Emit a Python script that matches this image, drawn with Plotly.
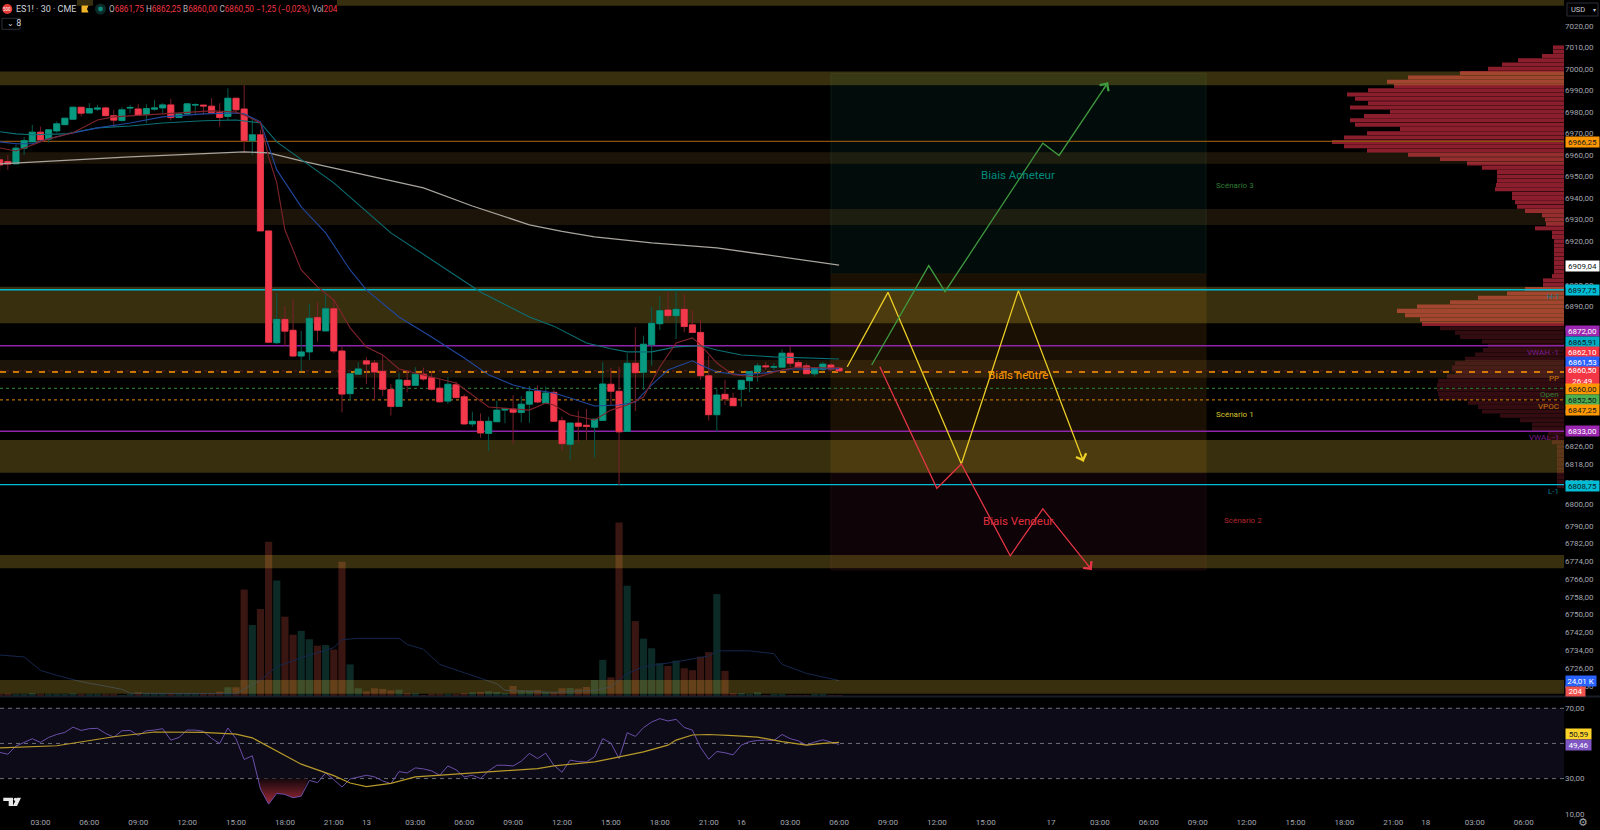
# ES1! 30 min chart with scenario drawings, volume profile, volume and RSI panes

import numpy as np
import plotly.graph_objects as go

# ---------------- Candles (one value per 30 min bar) ----------------
bar_open = [
    6957.7, 6956.9, 6955.8, 6963.1, 6966, 6970.5, 6967.3, 6971.1, 6974, 6976.5,
    6982.1, 6979.4, 6981.2, 6981.8, 6978.2, 6975.9, 6981.7, 6981.3, 6978.7, 6981.2,
    6981.8, 6983.2, 6977.3, 6979, 6983.1, 6983.1, 6982.6, 6979.6, 6977.8, 6986.3,
    6981.3, 6966.5, 6969.3, 6924.8, 6873.4, 6884.1, 6879.1, 6867.3, 6869.2, 6885,
    6878.8, 6889, 6869.6, 6850.1, 6859, 6865.1, 6864.1, 6860.3, 6852, 6844.3,
    6856.2, 6853.9, 6859, 6857.4, 6852.6, 6846.7, 6854.2, 6848.7, 6836.3, 6837.5,
    6832, 6837.3, 6842.6, 6843.1, 6841.5, 6845.3, 6851.3, 6845.8, 6850.7, 6837.8,
    6827, 6836.7, 6835.7, 6834.8, 6837.9, 6854.4, 6851.2, 6832.9, 6864, 6859.9,
    6872.5, 6882.1, 6888.4, 6885.8, 6888.7, 6881.6, 6878.1, 6858.3, 6840.5, 6849.8,
    6848, 6852.1, 6856, 6860.2, 6862.8, 6862.2, 6862.2, 6868.6, 6864.3, 6862.8,
    6859.2, 6861.2, 6863.2, 6861.75,
]
bar_high = [
    6959, 6960, 6964.6, 6968.2, 6973.9, 6973.1, 6971.9, 6975.4, 6977.1, 6982.4,
    6982.1, 6984, 6983.2, 6982.4, 6980.9, 6982.1, 6983.2, 6983.7, 6983.7, 6985.5,
    6984, 6986, 6979, 6984, 6984, 6983.1, 6986.3, 6984, 6990.9, 6986.3,
    6992.4, 6977, 6971.6, 6925, 6896.1, 6890.3, 6893.5, 6878.8, 6891.2, 6891.9,
    6896.1, 6893.5, 6871.6, 6859.2, 6864.5, 6866.8, 6865.5, 6867.8, 6854.5, 6859.7,
    6860.9, 6862.2, 6862, 6860.5, 6857.1, 6857.6, 6855.6, 6850, 6841.9, 6841.1,
    6839.6, 6846.9, 6843.7, 6849.4, 6849, 6853.6, 6853.9, 6853.3, 6851.8, 6839.6,
    6836.7, 6842.3, 6843.1, 6838.5, 6864.5, 6862, 6862.4, 6868.6, 6880.5, 6876.6,
    6889.9, 6894.8, 6896.8, 6897.3, 6895.6, 6888.4, 6883.8, 6867.5, 6852.6, 6856.4,
    6850.5, 6856.4, 6860.2, 6864, 6864.5, 6864, 6870.4, 6871.6, 6865.5, 6864,
    6861.7, 6864.7, 6864.1, 6862.25,
]
bar_low = [
    6952, 6953, 6955.8, 6960, 6966, 6966.1, 6965.7, 6970.3, 6973.9, 6976.5,
    6977.8, 6979.3, 6980.4, 6977.8, 6972.7, 6975.4, 6979.3, 6978.5, 6974.7, 6980.5,
    6979.3, 6975.9, 6977.3, 6978.7, 6978.5, 6978.5, 6979.3, 6973.1, 6976.2, 6979.3,
    6961.5, 6960, 6924.8, 6873.2, 6872.8, 6871.6, 6866.8, 6860.2, 6865.5, 6873.9,
    6878.8, 6868.6, 6841.6, 6846.9, 6858.7, 6854.5, 6847.2, 6849, 6840.1, 6844.1,
    6850.7, 6853.9, 6856, 6851.5, 6846.1, 6845.4, 6848, 6835.8, 6835, 6830,
    6823.9, 6837.3, 6836.6, 6827.2, 6837, 6836.8, 6845.7, 6845.7, 6837.5, 6823.9,
    6819.9, 6827.8, 6829, 6820.9, 6837.9, 6844.9, 6808.5, 6832.9, 6842.2, 6851.8,
    6862.9, 6879.3, 6883.4, 6875.1, 6878.2, 6878.1, 6856.4, 6837.8, 6832.7, 6844.9,
    6844.6, 6844.1, 6850.7, 6855.6, 6860.9, 6860.9, 6862.2, 6862.2, 6861.7, 6859.1,
    6857.9, 6860.4, 6860.4, 6860,
]
bar_close = [
    6955.3, 6955.7, 6963.1, 6966.6, 6970.5, 6966.9, 6971.6, 6974.4, 6977, 6982.1,
    6979.3, 6981.5, 6981.7, 6978.2, 6976.1, 6980.9, 6982, 6978.5, 6981.5, 6981.8,
    6983.2, 6977.3, 6979, 6983.7, 6983.3, 6982.7, 6979.6, 6977.3, 6986.3, 6980.9,
    6966.6, 6969.3, 6924.8, 6873.6, 6884.1, 6878.7, 6867.3, 6869.2, 6884.6, 6879.1,
    6889, 6869.6, 6849.9, 6859.2, 6861.4, 6863.6, 6860, 6852.1, 6844.3, 6856.4,
    6853.9, 6859, 6856.8, 6852.1, 6846.4, 6854.4, 6848.3, 6836.3, 6837.5, 6832.2,
    6837.5, 6842.6, 6843.2, 6841.6, 6845.3, 6851, 6846.3, 6850.4, 6837.5, 6827.3,
    6836.7, 6835.2, 6835.2, 6838.5, 6854.5, 6851.2, 6832.7, 6864, 6859.7, 6872.7,
    6882.3, 6888.1, 6885.8, 6888.7, 6880.8, 6878.1, 6858.3, 6840.5, 6849.5, 6847.7,
    6844.6, 6856.2, 6860.2, 6862.8, 6862.4, 6862.4, 6868.6, 6864, 6862.2, 6859.2,
    6861.7, 6863.6, 6861.4, 6860.5,
]

# Volume in thousands of contracts
bar_volume = [
    3.6, 4.2, 2.6, 3.1, 4.6, 2.6, 2.6, 2.6, 2.6, 4.2,
    2, 2, 2, 3.1, 3.1, 1.5, 2, 5.7, 3.6, 3.6,
    3.6, 4.2, 3.6, 3.6, 3.1, 3.6, 4.6, 6.7, 13.5, 13.5,
    165, 110, 135, 239, 179, 123, 95, 101, 88, 78,
    79, 72, 208, 49, 12, 7.3, 12, 11, 8.8, 9.8,
    4.6, 4.2, 1.5, 3.6, 3.6, 2.6, 2, 4.6, 5.7, 6.2,
    7.3, 6.2, 4.6, 15.5, 8.8, 8.8, 9.3, 6.2, 6.2, 12,
    12.4, 11.3, 14, 24.8, 56, 29, 269, 171, 116, 89,
    74, 51, 46.5, 55, 43, 40, 61, 68, 158, 39,
    4.6, 4.6, 3.1, 5.7, 1.5, 2.6, 2.6, 1.5, 1.5, 1.5,
    2, 2, 1, 0.2,
]
vol_ma_x = [0, 3, 5, 7, 10, 15, 16, 25, 29, 32, 34, 37, 41, 42, 44, 49, 50, 52,
            54, 57, 61, 62, 68, 73, 75, 77, 79, 83, 87, 88, 92, 95, 96, 99, 103]
vol_ma_y = [63.6, 60.5, 39.8, 32, 22.2, 10.4, 4.2, 3.6, 3.6, 24.8, 45.4, 59.4, 74.9, 87.3, 89.4, 89.4, 80, 72.4,
            49, 36, 19, 8.8, 5.7, 8.8, 14, 34.6, 45.4, 53, 62, 70, 70, 65.6, 49, 35, 24]

# ---------------- Moving averages ----------------
ema_red_x = [0, 2, 3, 6, 9, 12, 14, 18, 23, 26, 29, 30, 32, 33, 34, 35, 37, 39, 41, 43, 45, 47, 49, 53, 56, 60, 63, 65,
             67, 68, 70, 73, 75, 77, 79, 81, 83, 85, 86, 88, 90, 93, 96, 98, 102, 103]
ema_red_y = [6963.2, 6961.8, 6963.2, 6967.4, 6970.2, 6976.2, 6977.6, 6978.5, 6979.9, 6980.4, 6979.9, 6978.5, 6974.8,
             6959, 6947, 6925.3, 6906.8, 6899, 6893, 6880.2, 6871.4, 6867.8, 6861.4, 6857.7, 6855, 6844, 6843.1, 6842.6,
             6845.8, 6844.9, 6840.4, 6838.1, 6842.6, 6844.9, 6848.6, 6862.3, 6873.3, 6875.6, 6872.4, 6864.1, 6858.7,
             6857.7, 6860.9, 6862.3, 6861.8, 6862.1]
ema_blue_x = [0, 2, 4, 6, 8, 12, 16, 20, 25, 29, 30, 32, 34, 37, 40, 43, 45, 49, 53, 57, 60, 63, 65, 68, 70, 73, 76, 78,
              80, 82, 85, 86, 88, 91, 94, 97, 100, 103]
ema_blue_y = [6966, 6965.1, 6965.1, 6967.4, 6969.3, 6972.5, 6974.8, 6977.6, 6979, 6979.4, 6979, 6975.3, 6953, 6935.9,
              6923.9, 6906.8, 6897.6, 6885.2, 6876, 6866.4, 6858.7, 6854.1, 6852.2, 6850.4, 6848.1, 6844.5, 6844.9,
              6846.3, 6854.1, 6860.9, 6865.1, 6863.2, 6860, 6858.7, 6859.6, 6861.4, 6861.4, 6861.53]
ema_teal_x = [0, 2, 4, 8, 12, 16, 20, 25, 29, 32, 34, 41, 48, 55, 59, 65, 68, 72, 75, 77, 80, 83, 86, 88, 91, 95, 99,
              102, 103]
ema_teal_y = [6970.7, 6969.7, 6969.3, 6969.7, 6972.5, 6973.4, 6974.8, 6975.8, 6976.2, 6974.8, 6966, 6947, 6923.9,
              6906.8, 6896.7, 6885.2, 6881, 6873.3, 6870.6, 6869.2, 6869.2, 6871.5, 6872, 6870.1, 6867.8, 6866.9,
              6866.4, 6866, 6865.91]
sma_grey_x = [0, 16, 30, 33, 37, 52, 58, 65, 69, 73, 80, 88, 103]
sma_grey_y = [6955.8, 6959, 6961.4, 6960.9, 6957.2, 6944.7, 6936.3, 6927.6, 6924.6, 6922, 6919.3, 6917, 6909.04]

# ---------------- Levels and zones ----------------
level_price = [6966.25, 6897.75, 6808.75, 6872, 6833, 6860.5, 6860, 6852.5, 6847.25]
level_color = ["#8a520c", "#00bcd4", "#00bcd4", "#8e24aa", "#8e24aa", "#5e1a1e", "#ff9800", "#2a6e2e", "#b86f00"]
level_dash = ["solid", "solid", "solid", "solid", "solid", "dot", "6px,7px", "dot", "dot"]
level_width = [1.2, 1.5, 1.3, 1.4, 1.4, 1, 1.5, 1.4, 1.2]

zone_top = [7034, 6998.8, 6961.2, 6934.9, 6899.1, 6865.5, 6829, 6776.8, 6720.6]
zone_bottom = [7029.5, 6992.3, 6955.9, 6927.5, 6882.3, 6857.4, 6814.1, 6770.9, 6714.5]
zone_color = ["rgba(255,220,60,0.215)", "rgba(255,220,60,0.215)", "rgba(255,180,70,0.11)", "rgba(255,180,70,0.11)",
              "rgba(255,220,60,0.215)", "rgba(255,180,70,0.11)", "rgba(255,220,60,0.215)", "rgba(255,220,60,0.215)",
              "rgba(255,220,60,0.215)"]

# ---------------- Scenario drawings ----------------
buy_x = [107, 114, 116, 128, 130, 136]
buy_y = [6863.2, 6908.8, 6896.8, 6965.4, 6959.7, 6993.7]
neutral_x = [104, 109, 118, 125, 133]
neutral_y = [6862.4, 6896.5, 6818.1, 6897.3, 6819.1]
sell_x = [108, 115, 118, 124, 128, 134]
sell_y = [6862.4, 6807, 6818.1, 6776.5, 6797.7, 6770.1]

# ---------------- Volume profile (rows every 2 points, width in pixels) ----------------
profile_price = list(range(7010, 6806, -2))
profile_size = [
    11, 11, 22, 46, 62, 76, 104, 156, 177, 170, 196, 217, 209, 196, 214, 174, 200, 214, 209, 164,
    197, 220, 232, 220, 197, 156, 124, 97, 82, 67, 67, 67, 68, 69, 52, 52, 49, 47, 39, 22,
    19, 18, 29, 12, 12, 10, 10, 10, 10, 10, 10, 10, 10, 12, 21, 21, 39, 57, 86, 114,
    147, 167, 159, 144, 142, 124, 109, 104, 82, 76, 81, 89, 99, 109, 112, 109, 117, 126, 127, 127,
    126, 125, 96, 86, 82, 64, 44, 32, 32, 16, 16, 12, 7, 7, 7, 7, 7, 7, 7, 7, 7, 7,
]

# ---------------- RSI ----------------
rsi_values = [
    44.9, 43.9, 48.5, 50.6, 52.7, 50.6, 53.4, 55.1, 56.3, 59.3,
    57.4, 58.4, 58.6, 55.7, 53.6, 57.2, 57.4, 54.6, 57.2, 57.6,
    58.4, 51.9, 53.4, 57.6, 57.6, 56.9, 52.9, 50, 58.8, 52.7,
    40.9, 43, 24.1, 15.5, 21.6, 21, 19.1, 20, 29, 27.7,
    33.2, 29.4, 25.2, 29.8, 31, 31.9, 31, 28.7, 27.1, 34,
    33.2, 36.1, 35.5, 34.4, 31.9, 37.2, 35, 31, 31.9, 30,
    34.4, 37.6, 37.6, 37.2, 39.9, 44.3, 41.4, 44.5, 37.6, 33.6,
    40.5, 39.7, 39.5, 42.4, 52.7, 50.2, 41.4, 56.1, 54, 59,
    62.2, 64.1, 62.8, 63.7, 59.1, 57.6, 47.7, 41, 45.4, 44.7,
    43.5, 49, 51, 51.7, 51.9, 51.7, 55.1, 52.7, 51.5, 49,
    50.8, 52.1, 50.8, 49.46,
]
rsi_ma_x = [0, 7, 14, 19, 25, 29, 31, 34, 37, 41, 43, 45, 48, 51, 57, 63, 66, 68, 73, 75, 79, 82, 83, 85, 87, 90, 93, 96,
            99, 101, 103]
rsi_ma_y = [47.5, 48.7, 53.8, 56.5, 56.3, 55.3, 53.2, 45.8, 38.2, 31.7, 27.5, 25.4, 27.3, 31, 32.9, 34.8, 35.7, 37.2,
            39.5, 41.4, 45.2, 49, 51.9, 54.8, 55.1, 54.4, 53.6, 51, 49, 50, 50.59]
oversold_x = [31.8, 32, 33, 34, 35, 36, 37, 37.9]
oversold_y = [30, 24.1, 15.5, 21.6, 21, 19.1, 20, 30]
rsi_levels = [70, 50, 30]

# ---------------- Axis labels ----------------
time_ticks = [5, 11, 17, 23, 29, 35, 41, 45, 51, 57, 63, 69, 75, 81, 87, 91, 97, 103, 109, 115, 121, 129, 135, 141, 147,
              153, 159, 165, 171, 175, 181, 187]
time_labels = ["03:00", "06:00", "09:00", "12:00", "15:00", "18:00", "21:00", "13", "03:00", "06:00", "09:00", "12:00",
               "15:00", "18:00", "21:00", "16", "03:00", "06:00", "09:00", "12:00", "15:00", "17", "03:00", "06:00",
               "09:00", "12:00", "15:00", "18:00", "21:00", "18", "03:00", "06:00"]
price_ticks = [7020, 7010, 7000, 6990, 6980, 6970, 6960, 6950, 6940, 6930, 6920, 6900, 6890, 6880, 6842, 6826, 6818,
               6810, 6800, 6790, 6782, 6774, 6766, 6758, 6750, 6742, 6734, 6726, 6718]
rsi_ticks = [70, 30, 10]

tag_text = ["6966,25", "6909,04", "6897,75", "6872,00", "6865,91", "6862,10", "6861,53", "6860,50<br>26:49", "6860,00",
            "6852,50", "6847,25", "6833,00", "6808,75", "24,01 K", "204", "50,59", "49,46"]
tag_color = ["#ff9800", "#ffffff", "#00bcd4", "#9c27b0", "#00acc1", "#f23645", "#2962ff", "#f23645", "#ff9800",
             "#4caf50", "#ff9800", "#9c27b0", "#00bcd4", "#2962ff", "#ef5350", "#ffd42a", "#7e57c2"]
tag_font = ["#131722", "#131722", "#131722", "#ffffff", "#131722", "#ffffff", "#ffffff", "#ffffff", "#131722",
            "#131722", "#131722", "#ffffff", "#131722", "#ffffff", "#ffffff", "#131722", "#ffffff"]
tag_y = [142, 266, 290, 331.3, 341.7, 351.7, 361.7, 376, 389.3, 400, 409.7, 431.3, 485.7, 680.5, 691, 734, 744.7]
tag_w = [33, 33, 33, 33, 33, 33, 33, 33, 33, 33, 33, 33, 33, 30, 19, 25, 25]
tag_h = [10, 10, 10, 10, 10, 10, 10, 18, 10, 10, 10, 10, 10, 10, 9, 10, 10]

# ---------------- Pane geometry ----------------
W, H = 1600, 830
PLOT_RIGHT = 1564
MAIN_BOTTOM = 696
RSI_TOP, RSI_BOTTOM = 698, 815.5
x_range = [0.04, 191.95]
log_top = np.log10(7020 * np.exp(26 / 15007))
log_bottom = np.log10(7020 * np.exp(-(MAIN_BOTTOM - 26) / 15007))
log_range = [log_bottom, log_top]


def px_x(x):
    return x / W


def px_y(y):
    return 1 - y / H


FONT = "Roboto, sans-serif"
fig = go.Figure()

# ---------------- Volume profile ----------------
profile_colors = ["#8a1e2d" if p > 6880 else "#330c12" for p in profile_price]
fig.add_trace(go.Bar(x=profile_size, y=profile_price, orientation="h", width=1.85, xaxis="x", yaxis="y",
                     marker=dict(color=profile_colors, line=dict(width=0)), showlegend=False, hoverinfo="skip"))

# ---------------- Volume ----------------
bar_index = list(range(len(bar_open)))
vol_colors = ["#0c2a26" if c >= o else "#3a1612" for o, c in zip(bar_open, bar_close)]
fig.add_trace(go.Bar(x=bar_index, y=bar_volume, width=0.88, xaxis="x2", yaxis="y2",
                     marker=dict(color=vol_colors, line=dict(width=0)), showlegend=False))
fig.add_trace(go.Scatter(x=vol_ma_x, y=vol_ma_y, mode="lines", xaxis="x2", yaxis="y2",
                         line=dict(color="#16264d", width=1), showlegend=False))

# ---------------- Zones and horizontal levels ----------------
for top, bottom, color in zip(zone_top, zone_bottom, zone_color):
    fig.add_trace(go.Scatter(x=[x_range[0], x_range[1], x_range[1], x_range[0], x_range[0]],
                             y=[top, top, bottom, bottom, top], mode="none", fill="toself", fillcolor=color,
                             xaxis="x2", yaxis="y3", showlegend=False, hoverinfo="skip"))
for price, color, dash, width in zip(level_price, level_color, level_dash, level_width):
    fig.add_trace(go.Scatter(x=x_range, y=[price, price], mode="lines", xaxis="x2", yaxis="y3",
                             line=dict(color=color, dash=dash, width=width), showlegend=False, hoverinfo="skip"))

# ---------------- Candles: dim wicks first, then bright bodies ----------------
fig.add_trace(go.Candlestick(x=bar_index, open=bar_open, high=bar_high, low=bar_low, close=bar_close,
                             xaxis="x2", yaxis="y5", whiskerwidth=0, showlegend=False,
                             increasing=dict(line=dict(color="#075a4c", width=1), fillcolor="rgba(0,0,0,0)"),
                             decreasing=dict(line=dict(color="#7a1f2a", width=1), fillcolor="rgba(0,0,0,0)")))
body_top = np.maximum(bar_open, bar_close)
body_bottom = np.minimum(bar_open, bar_close)
fig.add_trace(go.Candlestick(x=bar_index, open=bar_open, high=body_top, low=body_bottom, close=bar_close,
                             xaxis="x2", yaxis="y5", whiskerwidth=0, showlegend=False,
                             increasing=dict(line=dict(color="#089981", width=0.6), fillcolor="#089981"),
                             decreasing=dict(line=dict(color="#f5394d", width=0.6), fillcolor="#f5394d")))

# ---------------- Moving averages ----------------
for xs, ys, color, width in [(sma_grey_x, sma_grey_y, "#a8a49e", 1.3), (ema_teal_x, ema_teal_y, "#0b6f74", 1.1),
                             (ema_blue_x, ema_blue_y, "#20479e", 1.1), (ema_red_x, ema_red_y, "#80242c", 1.1)]:
    fig.add_trace(go.Scatter(x=xs, y=ys, mode="lines", xaxis="x2", yaxis="y5",
                             line=dict(color=color, width=width), showlegend=False))

# ---------------- Scenario paths ----------------
for xs, ys, color in [(neutral_x, neutral_y, "#ecce26"), (buy_x, buy_y, "#3f9a3f"), (sell_x, sell_y, "#e23545")]:
    fig.add_trace(go.Scatter(x=xs, y=ys, mode="lines", xaxis="x2", yaxis="y5",
                             line=dict(color=color, width=1.3), showlegend=False))

# ---------------- RSI ----------------
for level in rsi_levels:
    fig.add_trace(go.Scatter(x=x_range, y=[level, level], mode="lines", xaxis="x3", yaxis="y4",
                             line=dict(color="#6c6f78", width=1, dash="4px,4px"), showlegend=False, hoverinfo="skip"))
fig.add_trace(go.Scatter(x=oversold_x, y=oversold_y, mode="none", fill="toself", xaxis="x3", yaxis="y4",
                         fillgradient=dict(type="vertical", colorscale=[[0, "#a02a38"], [1, "#14070b"]]),
                         showlegend=False, hoverinfo="skip"))
fig.add_trace(go.Scatter(x=bar_index, y=rsi_values, mode="lines", xaxis="x3", yaxis="y4",
                         line=dict(color="#6a4fa8", width=1), showlegend=False))
fig.add_trace(go.Scatter(x=rsi_ma_x, y=rsi_ma_y, mode="lines", xaxis="x3", yaxis="y4",
                         line=dict(color="#b79a2a", width=1.2), showlegend=False))

# ---------------- Shapes ----------------
shapes = []


def rect(x0, y0, x1, y1, fill, line="rgba(0,0,0,0)", layer="below"):
    shapes.append(dict(type="rect", xref="paper", yref="paper", x0=px_x(x0), x1=px_x(x1), y0=px_y(y0), y1=px_y(y1),
                       fillcolor=fill, line=dict(color=line, width=1), layer=layer))


def circle(cx, cy, r, fill):
    shapes.append(dict(type="circle", xref="paper", yref="paper", x0=px_x(cx - r), x1=px_x(cx + r),
                       y0=px_y(cy + r), y1=px_y(cy - r), fillcolor=fill, line=dict(width=0), layer="above"))


def polygon(points, fill):
    path = "M " + " L ".join(f"{px_x(x)},{px_y(y)}" for x, y in points) + " Z"
    shapes.append(dict(type="path", xref="paper", yref="paper", path=path, fillcolor=fill,
                       line=dict(width=0), layer="above"))


rect(831, 73.3, 1206, 274, "#020c0a", "#0b1a12")
rect(831, 274, 1206, 473, "#1a1003", "#1d1506")
rect(831, 473, 1206, 570, "#0e0306", "#160a0c")
rect(0, RSI_TOP + 10.3, PLOT_RIGHT, RSI_TOP + 80.6, "#0e0b18")
rect(0, MAIN_BOTTOM - 0.5, W, MAIN_BOTTOM + 1.5, "#1a1d26", layer="above")

# black cut-outs of the top strip behind the legend
rect(0, 0, 77, 6, "#000000", layer="above")
rect(93, 0, 337, 6, "#000000", layer="above")

# header icons, buttons and logo
circle(7.3, 9, 5, "#e53935")
circle(100.5, 9, 5.5, "#0c2a28")
circle(100.5, 9, 2.4, "#0e8a7a")
polygon([(81.5, 5.5), (88.5, 5.5), (87, 9), (88.5, 12.5), (81.5, 12.5)], "#f0b429")
rect(2, 18.3, 20, 29.3, "#000000", "#2a2e39", layer="above")
rect(1567, 3, 1598, 16, "#000000", "#2a2e39", layer="above")
polygon([(3.3, 797.7), (13, 797.7), (13, 806), (8.7, 806), (8.7, 801), (3.3, 801)], "#e8e8e8")
polygon([(21, 797.7), (17, 806), (12.8, 806), (16.8, 797.7)], "#e8e8e8")
circle(15.4, 799.3, 1.6, "#e8e8e8")

# ---------------- Annotations ----------------
annotations = []


def label(x, y, text, color, size=8, anchor="left", family=FONT):
    annotations.append(dict(xref="paper", yref="paper", x=px_x(x), y=px_y(y), text=text, showarrow=False,
                            xanchor=anchor, yanchor="middle", font=dict(family=family, size=size, color=color),
                            borderpad=0))


# price tags on the right axis
for text, color, font_color, y, w, h in zip(tag_text, tag_color, tag_font, tag_y, tag_w, tag_h):
    annotations.append(dict(xref="paper", yref="paper", x=px_x(1565), y=px_y(y), text=text, showarrow=False,
                            xanchor="left", yanchor="middle", width=w, height=h, align="center", valign="middle",
                            bgcolor=color, borderpad=0, font=dict(family=FONT, size=8, color=font_color)))

# level names
label(1560, 296, "H-1", "#0a7c8c", anchor="right")
label(1560, 352, "VWAH -1", "#7b1f8f", anchor="right")
label(1560, 378, "PP", "#c9780a", anchor="right")
label(1560, 394.7, "Open", "#2e7d32", anchor="right")
label(1560, 406, "VPOC", "#c9780a", anchor="right")
label(1560, 437, "VWAL -1", "#7b1f8f", anchor="right")
label(1560, 491, "L-1", "#0a7c8c", anchor="right")

# scenario texts
label(1018, 175, "Biais Acheteur", "#00897b", 11.5, "center")
label(1018, 374.5, "Biais neutre", "#ff9800", 11.5, "center")
label(1018, 521, "Biais Vendeur", "#e03040", 11.5, "center")
label(1215, 185, "Scénario 3", "#2e7d32", 8)
label(1215, 414, "Scénario 1", "#d8c02a", 8)
label(1222.7, 520, "Scénario 2", "#b3262f", 8)

# header
label(15, 9, "ES1! · 30 · CME", "#d1d4dc", 9)
label(7.3, 9, "500", "#ffffff", 4.5, "center")
label(6, 23.8, "⌄ 8", "#d1d4dc", 8, family="DejaVu Sans")
label(1570, 9.5, "USD", "#c8cad0", 7.5)
label(1592, 9.5, "▾", "#c8cad0", 6, family="DejaVu Sans")
label(1583, 822, "⚙", "#a3a6af", 11, "center", family="DejaVu Sans")
grey, red = "#b2b5be", "#f23645"
legend_parts = [(grey, "O"), (red, "6861,75 "), (grey, "H"), (red, "6862,25 "), (grey, "B"), (red, "6860,00 "),
                (grey, "C"), (red, "6860,50 −1,25 (−0,02%) "), (grey, "Vol"), (red, "204")]
label(108, 9, "".join(f'<span style="color:{c}">{t}</span>' for c, t in legend_parts), red, 8.2)

# open arrow heads at the end of the scenario paths
for x, y, ax, ay, color in [(buy_x[-1], buy_y[-1], -5.6, 8.3, "#3f9a3f"),
                            (neutral_x[-1], neutral_y[-1], -3.5, -9.3, "#ecce26"),
                            (sell_x[-1], sell_y[-1], -6.3, -7.7, "#e23545")]:
    annotations.append(dict(xref="x2", yref="y5", x=x, y=np.log10(y), ax=ax, ay=ay, text="", showarrow=True,
                            arrowhead=4, arrowsize=1.9, arrowwidth=1.1, arrowcolor=color))

# ---------------- Layout ----------------
x_domain = [0, PLOT_RIGHT / W]
main_domain = [px_y(MAIN_BOTTOM), 1]
hidden = dict(visible=False, showgrid=False, zeroline=False)

fig.update_layout(
    width=W, height=H, margin=dict(l=0, r=0, t=0, b=0, autoexpand=False), autosize=False,
    paper_bgcolor="#000000", plot_bgcolor="#000000", showlegend=False,
    barmode="overlay", boxgap=0.25, boxgroupgap=0, boxmode="overlay",
    font=dict(family=FONT, size=8, color="#a3a6af"),
    xaxis=dict(domain=x_domain, range=[PLOT_RIGHT, 0], anchor="y", **hidden),
    xaxis2=dict(domain=x_domain, range=x_range, overlaying="x", anchor="y2", rangeslider=dict(visible=False), **hidden),
    xaxis3=dict(domain=x_domain, range=x_range, anchor="y4", showgrid=False, zeroline=False, showline=False,
                tickmode="array", tickvals=time_ticks, ticktext=time_labels, tickangle=0, ticklen=0,
                tickfont=dict(family=FONT, size=8, color="#a3a6af"), rangeslider=dict(visible=False)),
    yaxis=dict(domain=main_domain, type="log", range=log_range, anchor="x", **hidden),
    yaxis2=dict(domain=main_domain, range=[0, MAIN_BOTTOM * 1.55], overlaying="y", anchor="x2", **hidden),
    yaxis3=dict(domain=main_domain, type="log", range=log_range, overlaying="y", anchor="x2", **hidden),
    yaxis5=dict(domain=main_domain, type="log", range=log_range, overlaying="y", anchor="x2", side="right",
                showgrid=False, zeroline=False, showline=False, tickmode="array", tickvals=price_ticks,
                ticktext=[f"{p},00" for p in price_ticks], ticklen=4, tickcolor="rgba(0,0,0,0)",
                tickfont=dict(family=FONT, size=8, color="#a3a6af")),
    yaxis4=dict(domain=[px_y(RSI_BOTTOM), px_y(RSI_TOP)], range=[9.0, 75.86], anchor="x3", side="right",
                showgrid=False, zeroline=False, showline=False, tickmode="array", tickvals=rsi_ticks,
                ticktext=[f"{v},00" for v in rsi_ticks], ticklen=4, tickcolor="rgba(0,0,0,0)",
                tickfont=dict(family=FONT, size=8, color="#a3a6af")),
    shapes=shapes, annotations=annotations,
)

fig.write_html("out.html", config={"displayModeBar": False},
               post_script="document.body.style.margin='0';document.body.style.background='#000';"
                           "document.body.style.overflow='hidden';")
